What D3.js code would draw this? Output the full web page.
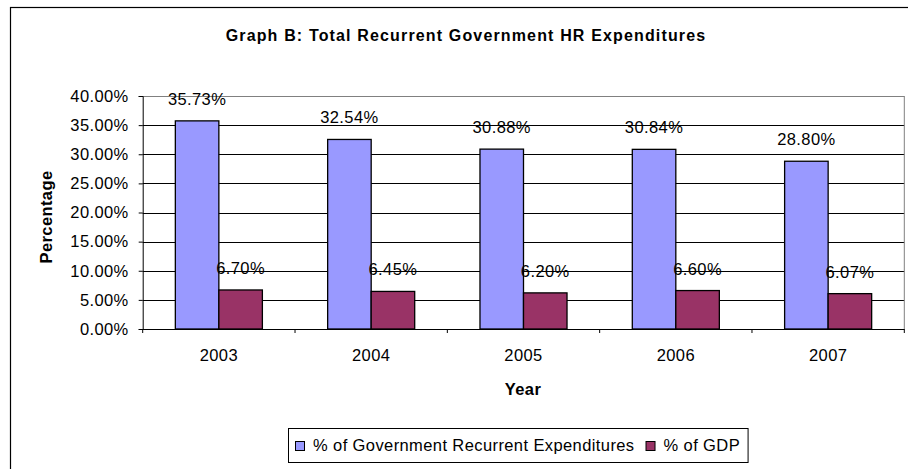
<!DOCTYPE html>
<html>
<head>
<meta charset="utf-8">
<script src="https://cdn.jsdelivr.net/npm/d3@7"></script>
<style>
  html, body { margin: 0; padding: 0; background: #fff; }
  svg { display: block; font-family: "Liberation Sans", Arial, sans-serif; }
  text { letter-spacing: 0.4px; }
</style>
</head>
<body>
<svg id="chart" width="908" height="469"></svg>
<script>
// ---- data ----
const years = ["2003", "2004", "2005", "2006", "2007"];
const govExpenditures = [35.73, 32.54, 30.88, 30.84, 28.80];
const gdp = [6.70, 6.45, 6.20, 6.60, 6.07];
const seriesNames = ["% of Government Recurrent Expenditures", "% of GDP"];
const yTicks = [0, 5, 10, 15, 20, 25, 30, 35, 40];
const titleText = "Graph B: Total Recurrent Government HR Expenditures";
const xTitle = "Year";
const yTitle = "Percentage";

// ---- layout ----
const svg = d3.select("#chart");
const colors = ["#9999FF", "#993366"];
const plot = { left: 142.7, right: 904.3, top: 96, bottom: 329 };
const fontSize = 16.5;

// outer chart border (extends past the picture on right and bottom)
svg.append("rect")
  .attr("x", 10.5).attr("y", 7.5)
  .attr("width", 940).attr("height", 500)
  .attr("fill", "#fff").attr("stroke", "#000").attr("stroke-width", 1.2);

const x = d3.scaleBand().domain(years).range([plot.left, plot.right]).padding(0);
const y = d3.scaleLinear().domain([0, 40]).range([plot.bottom, plot.top]);
const barW = x.bandwidth() / 3.5;
const groupOffset = (x.bandwidth() - 2 * barW) / 2;

// gridlines
svg.append("g").selectAll("line").data(yTicks.slice(1)).join("line")
  .attr("x1", plot.left).attr("x2", plot.right)
  .attr("y1", d => Math.round(y(d)) + 0.5).attr("y2", d => Math.round(y(d)) + 0.5)
  .attr("stroke", d => d === 40 ? "#808080" : "#000").attr("stroke-width", 1);

// plot area right border
svg.append("line")
  .attr("x1", plot.right).attr("x2", plot.right)
  .attr("y1", y(40)).attr("y2", plot.bottom)
  .attr("stroke", "#808080");

// bars
const series = [govExpenditures, gdp];
series.forEach((vals, si) => {
  svg.append("g").selectAll("rect").data(years).join("rect")
    .attr("x", (d) => x(d) + groupOffset + si * barW)
    .attr("y", (d, i) => y(vals[i]))
    .attr("width", barW)
    .attr("height", (d, i) => y(0) - y(vals[i]))
    .attr("fill", colors[si])
    .attr("stroke", "#000").attr("stroke-width", 1.3);
});

// y axis
const yAxis = svg.append("g")
  .attr("transform", `translate(${plot.left},0)`)
  .call(d3.axisLeft(y).tickValues(yTicks).tickSize(4).tickPadding(10)
    .tickFormat(d => d.toFixed(2) + "%"));
yAxis.select(".domain").attr("stroke", "#000");
yAxis.selectAll("line").attr("stroke", "#000");
yAxis.selectAll("text").attr("font-size", fontSize).attr("fill", "#000")
  .attr("font-family", "Liberation Sans, Arial, sans-serif");

// x axis (labels at centres, ticks at boundaries)
const xAxis = svg.append("g")
  .attr("transform", `translate(0,${plot.bottom})`)
  .call(d3.axisBottom(x).tickSize(0).tickPadding(20));
xAxis.select(".domain").remove();
xAxis.selectAll("text").attr("font-size", fontSize).attr("fill", "#000")
  .attr("font-family", "Liberation Sans, Arial, sans-serif");
svg.append("line")
  .attr("x1", plot.left).attr("x2", plot.right)
  .attr("y1", plot.bottom + 0.5).attr("y2", plot.bottom + 0.5)
  .attr("stroke", "#000");
const boundaries = years.map(d => x(d)).concat([plot.right]);
svg.append("g").selectAll("line").data(boundaries).join("line")
  .attr("x1", d => d).attr("x2", d => d)
  .attr("y1", plot.bottom).attr("y2", plot.bottom + 4)
  .attr("stroke", "#000");

// data labels
series.forEach((vals, si) => {
  svg.append("g").selectAll("text").data(years).join("text")
    .attr("x", d => x(d) + groupOffset + si * barW + barW / 2)
    .attr("y", (d, i) => y(vals[i]) - 16)
    .attr("text-anchor", "middle")
    .attr("font-size", fontSize)
    .text((d, i) => vals[i].toFixed(2) + "%");
});

// title
svg.append("text")
  .attr("x", 466).attr("y", 41)
  .attr("text-anchor", "middle")
  .attr("font-size", 16).attr("font-weight", "bold")
  .style("letter-spacing", "1.15px")
  .text(titleText);

// axis titles
svg.append("text")
  .attr("x", 523).attr("y", 395)
  .attr("text-anchor", "middle")
  .attr("font-size", fontSize).attr("font-weight", "bold")
  .text(xTitle);
svg.append("text")
  .attr("transform", "translate(52,217) rotate(-90)")
  .attr("text-anchor", "middle")
  .attr("font-size", fontSize).attr("font-weight", "bold")
  .text(yTitle);

// legend
const legend = svg.append("g");
const legendBox = legend.append("rect")
  .attr("x", 288.5).attr("y", 428.5)
  .attr("height", 34)
  .attr("fill", "#fff").attr("stroke", "#000");
let lx = 295;
seriesNames.forEach((name, i) => {
  legend.append("rect")
    .attr("x", lx + 0.5).attr("y", 441.5)
    .attr("width", 9).attr("height", 9)
    .attr("fill", colors[i]).attr("stroke", "#000");
  const t = legend.append("text")
    .attr("x", lx + 18).attr("y", 451)
    .attr("font-size", fontSize)
    .text(name);
  lx = lx + 18 + t.node().getComputedTextLength() + 11;
});
legendBox.attr("width", lx - 288.5 - 3);
</script>
</body>
</html>
